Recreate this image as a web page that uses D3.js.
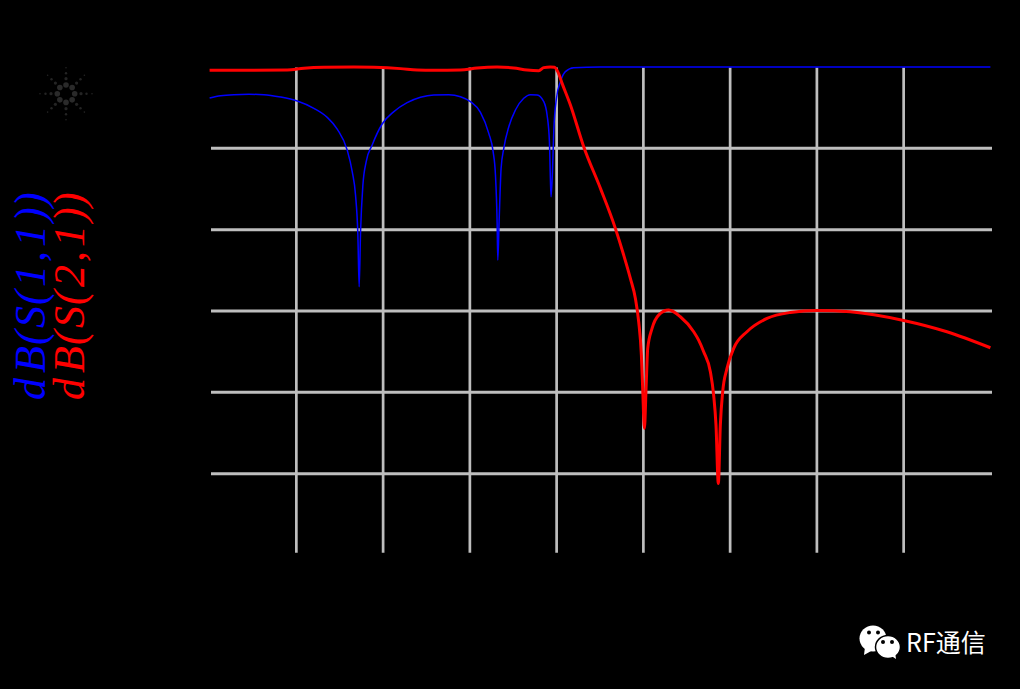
<!DOCTYPE html>
<html>
<head>
<meta charset="utf-8">
<script src="https://cdn.jsdelivr.net/npm/d3@7"></script>
<style>
  html, body { margin: 0; padding: 0; background: #000; }
  svg { display: block; }
</style>
</head>
<body>
<div id="app"></div>
<script>
// grid positions, no axis text is visible in the picture
const xTicks = [1, 2, 3, 4, 5, 6, 7, 8];
const yTicks = [-10, -20, -30, -40, -50];

// dB(S(1,1))
const s11X = [0, 0.127, 0.28, 0.453, 0.626, 0.818, 1.01, 1.202, 1.356, 1.471, 1.586, 1.644, 1.682, 1.709, 1.724, 1.74, 1.767, 1.805, 1.874, 1.989, 2.124, 2.277, 2.431, 2.584, 2.757, 2.892, 3.007, 3.122, 3.218, 3.268, 3.295, 3.314, 3.322, 3.337, 3.36, 3.391, 3.449, 3.525, 3.621, 3.698, 3.775, 3.852, 3.89, 3.917, 3.928, 3.936, 3.952, 3.967, 3.998, 4.044, 4.101, 4.197, 4.5, 9];
const s11Y = [-3.81, -3.53, -3.4, -3.36, -3.4, -3.69, -4.18, -5.08, -6.19, -7.63, -10.21, -12.87, -15.74, -20.66, -27.02, -20.25, -14.51, -11.64, -9.59, -7.01, -5.49, -4.39, -3.73, -3.44, -3.4, -3.65, -4.26, -5.58, -8.16, -10.41, -13.28, -19.02, -23.74, -19.02, -12.46, -10, -7.34, -5.29, -3.85, -3.4, -3.44, -4.26, -5.9, -9.18, -13.69, -15.95, -12.87, -7.95, -3.85, -1.8, -0.57, -0.08, 0, 0];

// dB(S(2,1))
const s21X = [0, 0.895, 1.087, 1.317, 1.663, 1.893, 2.2, 2.392, 2.584, 2.892, 3.084, 3.314, 3.506, 3.66, 3.794, 3.852, 3.928, 3.975, 4.013, 4.063, 4.159, 4.312, 4.505, 4.677, 4.773, 4.85, 4.908, 4.946, 4.977, 4.992, 5.012, 5.031, 5.05, 5.1, 5.176, 5.292, 5.426, 5.58, 5.637, 5.695, 5.772, 5.81, 5.837, 5.864, 5.887, 5.914, 5.964, 6.041, 6.194, 6.425, 6.693, 7, 7.385, 8, 8.499, 9];
const s21Y = [-0.41, -0.37, -0.16, -0.04, 0, -0.04, -0.2, -0.37, -0.41, -0.37, -0.12, 0, -0.12, -0.37, -0.45, -0.08, 0, -0.04, -0.57, -2.01, -4.67, -9.8, -14.92, -19.84, -23.12, -25.99, -28.45, -31.32, -35.42, -39.52, -44.44, -39.52, -34.6, -32.14, -30.5, -29.89, -30.71, -32.55, -33.58, -35.01, -37.47, -40.34, -44.03, -51.21, -44.03, -39.93, -37.06, -34.6, -32.55, -30.91, -30.18, -29.93, -30.09, -31.16, -32.55, -34.52];

const traceNames = ['dB(S(1,1))', 'dB(S(2,1))'];

const width = 1020, height = 689;

const svg = d3.select('#app').append('svg')
    .attr('width', width)
    .attr('height', height);

svg.append('rect')
    .attr('width', width)
    .attr('height', height)
    .attr('fill', '#000');

const x = d3.scaleLinear().domain([0, 9]).range([209.6, 990.4]);
const y = d3.scaleLinear().domain([0, -60]).range([67, 555]);

// grid, the vertical lines stop a little short of the bottom of the scale
const gridBottom = 552.7;

svg.append('g')
    .attr('transform', `translate(0,${gridBottom})`)
    .call(d3.axisBottom(x).tickValues(xTicks).tickSize(-(gridBottom - 67.5)).tickFormat('').offset(0))
    .call(g => g.select('.domain').remove())
    .call(g => g.selectAll('line').attr('stroke', '#bebebe').attr('stroke-width', 2.7));

svg.append('g')
    .attr('transform', 'translate(211,0)')
    .call(d3.axisLeft(y).tickValues(yTicks).tickSize(-781).tickFormat('').offset(0))
    .call(g => g.select('.domain').remove())
    .call(g => g.selectAll('line').attr('stroke', '#bebebe').attr('stroke-width', 3));

const line = d3.line().x(d => x(d[0])).y(d => y(d[1])).curve(d3.curveMonotoneX);

svg.append('path')
    .datum(d3.zip(s11X, s11Y))
    .attr('d', line)
    .attr('fill', 'none')
    .attr('stroke', '#0000ff')
    .attr('stroke-width', 1.5);

svg.append('path')
    .datum(d3.zip(s21X, s21Y))
    .attr('d', line)
    .attr('fill', 'none')
    .attr('stroke', '#ff0000')
    .attr('stroke-width', 3);

// rotated trace names on the left, each glyph placed by hand because
// the original script font spreads them unevenly
const glyphOffsets = [1, 28, 56, 73, 96, 114, 139, 154, 179, 194];

const legend = svg.selectAll('text.legend')
    .data(traceNames)
    .join('text')
    .attr('class', 'legend')
    .attr('transform', (d, i) => `translate(${[45, 84][i]},401) rotate(-90)`)
    .attr('font-family', '"Liberation Serif"')
    .attr('font-style', 'italic')
    .attr('font-size', 44)
    .attr('fill', (d, i) => ['#0000ff', '#ff0000'][i]);

legend.selectAll('tspan')
    .data(d => d.split(''))
    .join('tspan')
    .attr('x', (d, i) => glyphOffsets[i])
    .text(d => d);

// dim logo top left: ring of dots with rays going out
const logo = svg.append('g').attr('transform', 'translate(66,93.7)');
d3.range(8).forEach(i => {
  const a = i * Math.PI / 4;
  logo.append('circle').attr('cx', 8.7 * Math.cos(a)).attr('cy', 8.7 * Math.sin(a)).attr('r', 2.8).attr('fill', '#2a2a2a');
  [[15, 1.6], [20.5, 1.2], [26, 0.8]].forEach(p => {
    logo.append('circle').attr('cx', p[0] * Math.cos(a)).attr('cy', p[0] * Math.sin(a)).attr('r', p[1]).attr('fill', '#242424');
  });
});

// wechat mark and account name
const mark = svg.append('g').attr('fill', '#fff');
mark.append('ellipse').attr('cx', 873).attr('cy', 638.5).attr('rx', 13.5).attr('ry', 13);
mark.append('path').attr('d', 'M865 647 L864 655 L873 650 Z');
mark.append('ellipse').attr('cx', 888).attr('cy', 647).attr('rx', 12.5).attr('ry', 11.5).attr('stroke', '#000').attr('stroke-width', 1.5);
mark.append('path').attr('d', 'M890 655 L896 659 L895 652 Z');
[[869, 632.5], [878, 632.5], [883, 642], [892, 642]].forEach(p => {
  mark.append('circle').attr('cx', p[0]).attr('cy', p[1]).attr('r', 2).attr('fill', '#000');
});

svg.append('text')
    .attr('x', 906)
    .attr('y', 652)
    .attr('font-family', '"Noto Sans CJK SC"')
    .attr('font-size', 25)
    .attr('fill', '#fff')
    .text('RF通信');
</script>
</body>
</html>
